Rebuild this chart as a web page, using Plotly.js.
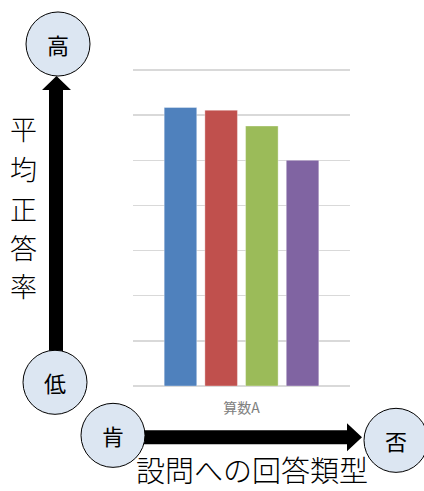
<!DOCTYPE html>
<html>
<head>
<meta charset="utf-8">
<script src="https://cdn.plot.ly/plotly-3.0.1.min.js"></script>
<style>html,body{margin:0;padding:0;background:#fff;}#chart{width:424px;height:491px;}</style>
</head>
<body>
<div id="chart"></div>
<script>
// ---- data ----
const categories = ['算数A'];
const seriesNames = ['類型1', '類型2', '類型3', '類型4'];
const seriesValues = [[61.7], [61.1], [57.6], [50.0]];
const seriesColors = ['#4F81BD', '#C0504D', '#9BBB59', '#8064A2'];
const yAxisTitleChars = ['平', '均', '正', '答', '率'];
const xAxisTitle = '設問への回答類型';
const circleLabels = ['高', '低', '肯', '否'];
const yTicks = [10, 20, 30, 40, 50, 60, 70];

// ---- layout geometry (pixels) ----
const W = 424, H = 491;
const yMax = 72;
const unitPx = (385.7 - 70) / 70;
const plotL = 133, plotR = 350, plotB = 385.7, plotT = plotB - yMax * unitPx;
const pw = plotR - plotL, ph = plotB - plotT;
const px = x => (x - plotL) / pw;
const py = y => (plotB - y) / ph;

const traces = seriesNames.map((n, i) => ({
  type: 'bar', name: n, x: categories, y: seriesValues[i],
  marker: { color: seriesColors[i], line: { color: 'rgba(255,255,255,0.35)', width: 1 } },
  hoverinfo: 'none'
}));

const circleCenters = [[58, 44], [55, 382], [113, 435], [396, 440]];
const R = 32;
const shapes = [];
const vpath = [[49, 352], [49, 90], [42, 90], [56.5, 76], [71, 90], [63, 90], [63, 352]];
const hpath = [[143, 430], [347, 430], [347, 423], [362, 437], [347, 451], [347, 444], [143, 444]];
function toPath(pts) {
  return 'M ' + pts.map(p => px(p[0]).toFixed(5) + ',' + py(p[1]).toFixed(5)).join(' L ') + ' Z';
}
shapes.push({ type: 'path', xref: 'paper', yref: 'paper', path: toPath(vpath), fillcolor: '#000', line: { width: 0 } });
shapes.push({ type: 'path', xref: 'paper', yref: 'paper', path: toPath(hpath), fillcolor: '#000', line: { width: 0 } });
circleCenters.forEach(c => {
  shapes.push({ type: 'circle', xref: 'paper', yref: 'paper',
    x0: px(c[0] - R), x1: px(c[0] + R), y0: py(c[1] + R), y1: py(c[1] - R),
    fillcolor: '#DCE6F2', line: { color: '#000', width: 1 } });
});

const annotations = [];
circleLabels.forEach((t, i) => {
  annotations.push({ text: t, xref: 'paper', yref: 'paper', x: px(circleCenters[i][0]), y: py(circleCenters[i][1]),
    xanchor: 'center', yanchor: 'middle', showarrow: false,
    font: { family: '"Noto Sans CJK JP", sans-serif', size: 22, color: '#000' } });
});
const leftYs = [128, 168, 208, 247, 285];
yAxisTitleChars.forEach((ch, i) => {
  annotations.push({ text: ch, xref: 'paper', yref: 'paper', x: px(23), y: py(leftYs[i]),
    xanchor: 'center', yanchor: 'middle', showarrow: false,
    font: { family: '"Noto Sans CJK JP", serif', size: 27, color: '#000', weight: 300 } });
});
annotations.push({ text: xAxisTitle, xref: 'paper', yref: 'paper', x: px(252), y: py(491),
  xanchor: 'center', yanchor: 'bottom', showarrow: false, borderpad: 0,
  font: { family: '"Noto Sans CJK JP", serif', size: 29, color: '#000', weight: 300 } });

const layout = {
  width: W, height: H,
  margin: { l: plotL, r: W - plotR, t: plotT, b: H - plotB, pad: 0 },
  paper_bgcolor: '#fff', plot_bgcolor: '#fff',
  showlegend: false,
  barmode: 'group', bargap: 0.25, bargroupgap: 0.2,
  xaxis: { type: 'category', showgrid: false, showline: false, ticks: '', ticklen: 0, ticklabelstandoff: 12,
    tickfont: { family: '"Noto Sans CJK JP", sans-serif', size: 14, color: '#808080' }, fixedrange: true },
  yaxis: { range: [0, yMax], tickvals: yTicks, showticklabels: false, showgrid: true, gridcolor: '#D9D9D9', gridwidth: 1.5,
    zeroline: true, zerolinecolor: '#D9D9D9', zerolinewidth: 1.5, showline: false, ticks: '', fixedrange: true },
  shapes: shapes,
  annotations: annotations
};

Plotly.newPlot('chart', traces, layout, { displayModeBar: false, staticPlot: true });
</script>
</body>
</html>
